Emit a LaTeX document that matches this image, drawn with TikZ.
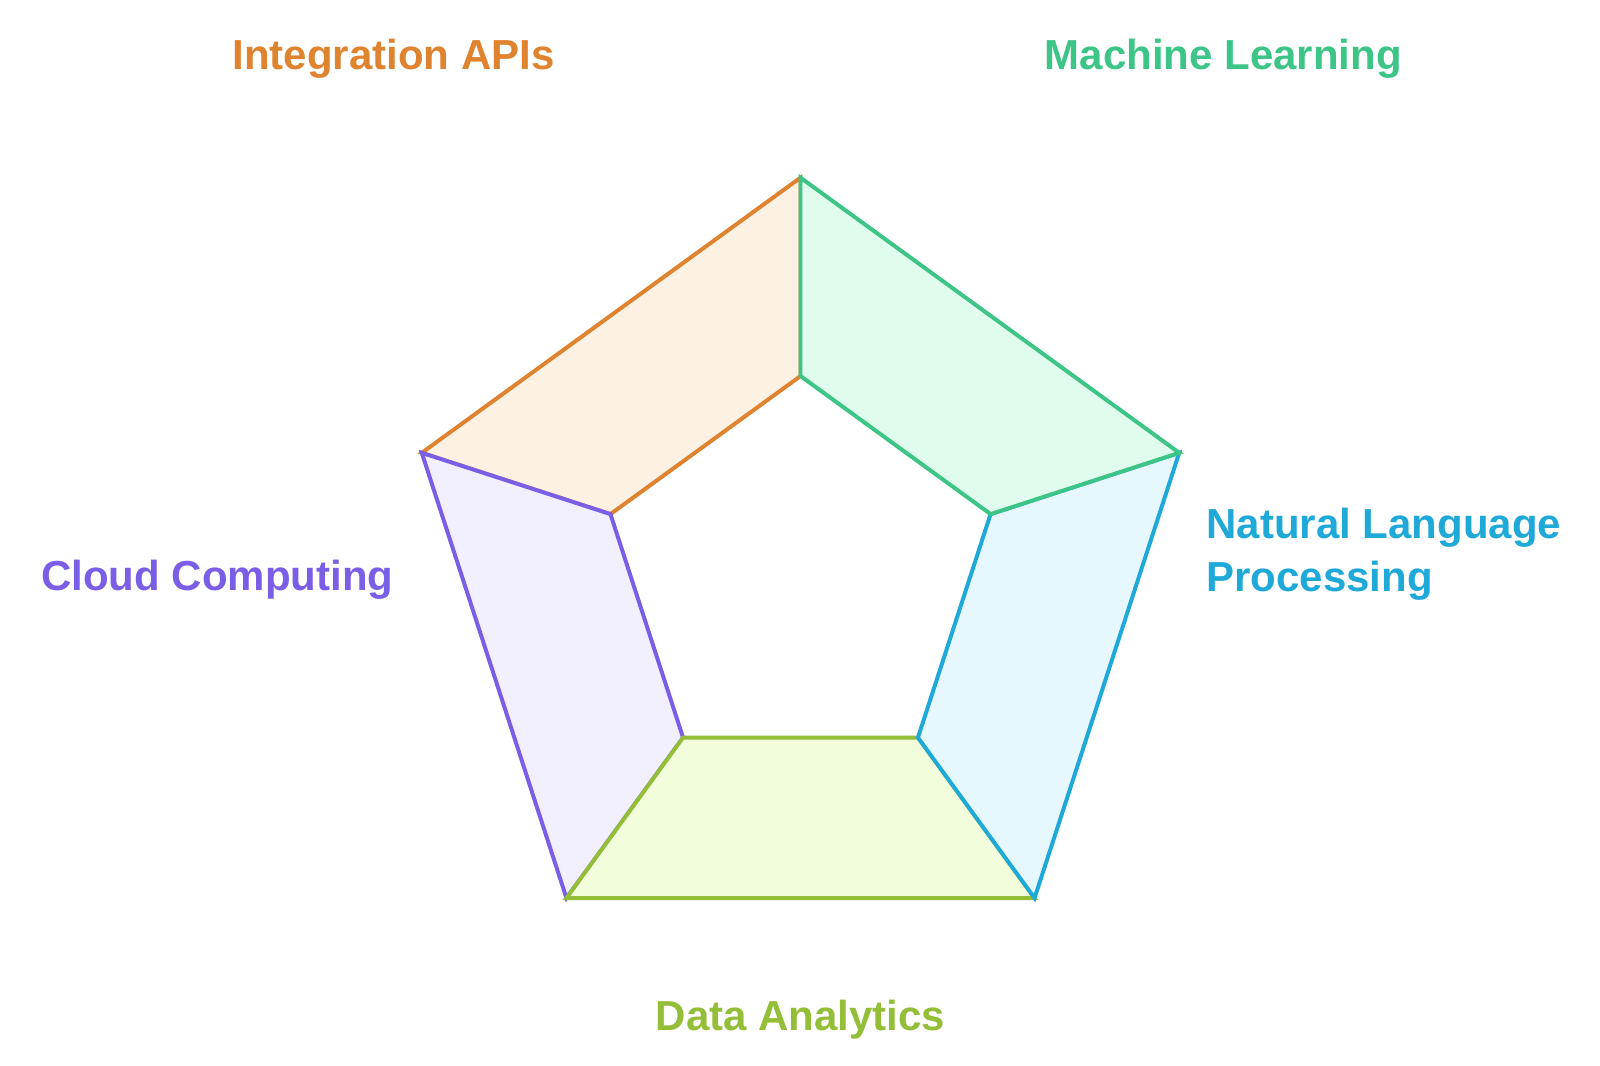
\documentclass[tikz,border=0pt]{standalone}
\usepackage{fontspec}
\setmainfont{Liberation Sans}
\definecolor{apiorange}{HTML}{E0832F}
\definecolor{apifill}{HTML}{FDF1E4}
\definecolor{mlgreen}{HTML}{3CC587}
\definecolor{mlfill}{HTML}{E0FCEC}
\definecolor{nlpblue}{HTML}{1FA9D9}
\definecolor{nlpfill}{HTML}{E6F8FE}
\definecolor{dagreen}{HTML}{94BD38}
\definecolor{dafill}{HTML}{F2FEDB}
\definecolor{ccpurple}{HTML}{7B5EE6}
\definecolor{ccfill}{HTML}{F2EFFE}

\begin{document}
\begin{tikzpicture}[seg/.style={line width=1.1pt},
    lbl/.style={inner sep=0pt,font=\bfseries\fontsize{11.7}{14}\selectfont}]
    \useasboundingbox (0,0) rectangle (15.67,10.44);
    \begin{scope}[shift={(7.84,4.80)}]
      \draw[seg,draw=apiorange,fill=apifill] (162:3.9) -- (90:3.9) -- (90:1.957) -- (162:1.957) -- cycle;
      \draw[seg,draw=ccpurple,fill=ccfill] (234:3.9) -- (162:3.9) -- (162:1.957) -- (234:1.957) -- cycle;
      \draw[seg,draw=dagreen,fill=dafill] (306:3.9) -- (234:3.9) -- (234:1.957) -- (306:1.957) -- cycle;
      \draw[seg,draw=nlpblue,fill=nlpfill] (18:3.9) -- (306:3.9) -- (306:1.957) -- (18:1.957) -- cycle;
      \draw[seg,draw=mlgreen,fill=mlfill] (90:3.9) -- (18:3.9) -- (18:1.957) -- (90:1.957) -- cycle;
    \end{scope}
    \node (api) [lbl,text=apiorange,anchor=base] at (3.855,9.76) {Integration APIs};
    \node (ml) [lbl,text=mlgreen,anchor=base] at (11.98,9.76) {Machine Learning};
    \node (nlp) [lbl,text=nlpblue,anchor=base west] at (11.81,5.17) {Natural Language};
    \node (nlp2) [lbl,text=nlpblue,anchor=base west] at (11.81,4.65) {Processing};
    \node (cc) [lbl,text=ccpurple,anchor=base east] at (3.86,4.66) {Cloud Computing};
    \node (da) [lbl,text=dagreen,anchor=base] at (7.84,0.35) {Data Analytics};
  \end{tikzpicture}
\end{document}
